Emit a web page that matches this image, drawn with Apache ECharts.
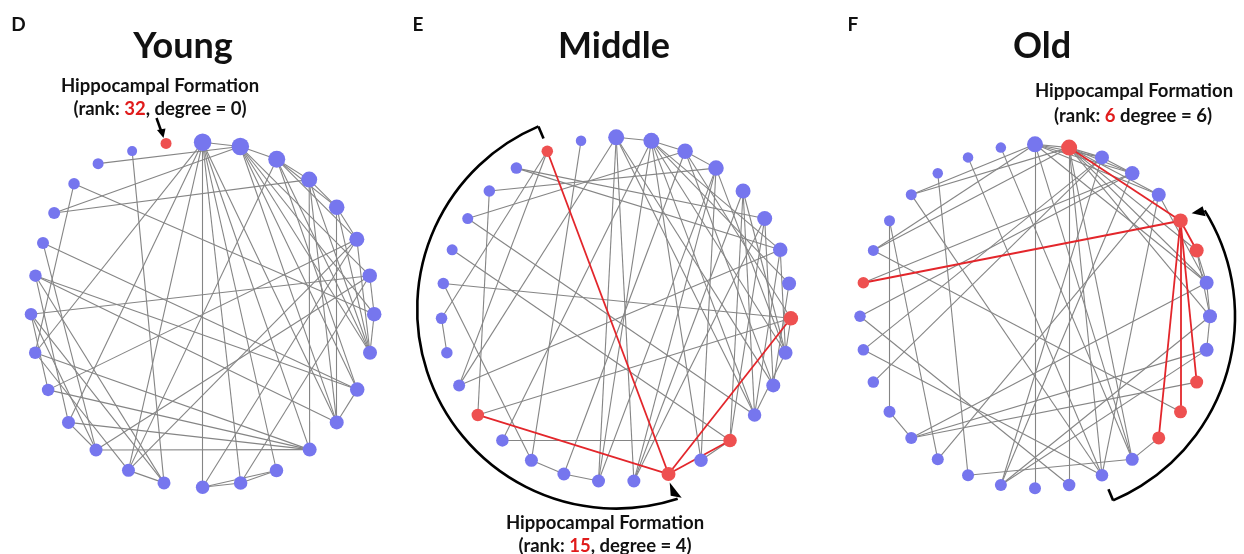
<!DOCTYPE html>
<html><head><meta charset="utf-8">
<script src="https://cdn.jsdelivr.net/npm/echarts@6/dist/echarts.min.js"></script>
<style>html,body{margin:0;padding:0;background:#fff}#c{width:1244px;height:554px}</style>
</head><body><div id="c"></div>
<script>
// ---------- Panel D : Young ----------
const youngAngles = [0,12.7,25.6,38.4,51.4,64.0,76.9,89.8,102.7,115.7,128.6,141.4,154.5,167.2,180,193.0,205.6,218.4,231.4,244.2,257.3,270.2,283.1,294.1,304.3,315.4,325.2,336.6,347.9];
const youngRadii  = [1,1,1,1,1,1,1,1,1,1,1,1,1,1,1,1,1,1,1,1,1,1,1,1.019,1.047,1.067,1.067,1.034,1.016];
const youngSizes  = [17.5,17.5,17,16,15.5,15,14.5,14.5,14,14.5,14,14,13.5,13.5,13.5,13,13,13,13,12.5,12.5,12.5,12.5,12,12,11.5,11,10,11];
const youngRed    = [28];
const youngEdges  = [[0,1],[0,14],[0,13],[0,12],[0,11],[0,10],[0,20],[0,18],[0,16],
  [1,26],[1,24],[1,2],[1,6],[1,7],[1,8],[1,9],[1,10],
  [2,3],[2,5],[2,8],[2,9],[2,16],[2,4],
  [3,4],[3,24],[3,8],[3,10],[3,11],
  [4,5],[4,8],[4,10],
  [5,19],[5,16],[5,14],[5,8],
  [6,21],[6,17],[6,7],[6,13],
  [7,25],[7,8],
  [9,10],[9,23],[9,22],[10,22],
  [11,17],[11,18],[11,19],[11,20],
  [12,13],[12,14],[13,14],
  [15,27],[15,21],[15,22],[15,16],
  [16,20],[17,18],[17,23],[17,21],[18,22],[19,21],[20,25]];
const youngRedEdges = [];

// ---------- Panel E : Middle ----------
const middleAngles = [0,11.6,23.2,34.8,46.5,58.1,69.7,81.3,92.9,104.5,116.1,127.7,139.4,151.0,162.6,174.2,185.8,197.4,209.0,220.6,232.3,243.9,255.5,267.1,278.7,290.3,301.9,313.5,325.2,336.8,348.4];
const middleRadii  = [1,1,1,1,1,1,1,1,1,1,1,1,1,1,1,1,1,1,1,1,1,1,1,1,1,1,1,1,1,1,1];
const middleSizes  = [16,16,15.5,15.5,15,15,14.5,14,14.5,14,14,13.5,13.5,13.5,14,13,13,13,13,12.5,12.5,12,11.5,11.5,11.5,11,11,11.5,11.5,11.5,10.5];
const middleRed    = [8,12,14,20,29];
const middleEdges  = [[0,1],[0,16],[0,21],[0,10],[0,11],[0,15],
  [1,2],[1,19],[1,16],[1,13],[1,7],[1,9],[1,6],[1,11],
  [2,26],[2,17],[2,10],[2,8],[2,3],
  [3,27],[3,9],[3,13],[3,15],[3,16],
  [4,15],[4,11],[4,9],[4,12],
  [5,28],[5,15],[5,12],[5,10],
  [6,28],[6,21],[6,11],[6,9],[7,10],
  [8,24],[8,20],[8,9],[9,11],[11,26],
  [12,19],[12,25],[12,13],
  [17,16],[18,17],[18,24],[18,30],
  [20,27],[21,29],[23,22],[23,29]];
const middleRedEdges = [[14,29],[14,20],[14,8],[14,12]];

// ---------- Panel F : Old ----------
const oldAngles = [0,11.25,22.5,33.75,45,56.25,67.5,78.75,90,101.25,112.5,123.75,135,146.25,157.5,168.75,180,191.25,202.5,213.75,225,236.25,247.5,258.75,270,281.25,292.5,303.75,315,326.25,337.5,348.75];
const oldRadii  = [1,1,1,1,1,1,1,1,1,1,1,1,1,1,1,1,1,1,1,1,1,1,1,1,1,1,1,1,1,1,1,1];
const oldSizes  = [16,16,14,14.5,14,14.5,14,14,14,14,13,13,13,13,12.5,12.5,12,12,12,12,12,12,11.5,11.5,11.5,11.5,11,11,11,10.5,10.5,10.5];
const oldRed    = [1,5,6,10,11,12,25];
const oldEdges  = [[0,1],[0,2],[0,3],[0,4],[0,16],[0,28],[0,26],[0,7],[0,13],
  [1,2],[1,3],[1,4],[1,6],[1,7],[1,8],[1,13],[1,14],[1,15],[1,26],[1,28],
  [2,3],[2,23],[2,22],[2,17],
  [3,24],[3,25],[3,17],
  [4,7],[4,14],[4,19],
  [6,7],[6,8],[7,8],[8,9],[7,20],[9,20],[10,20],[8,17],[9,17],
  [11,26],[12,13],[13,18],[13,31],[14,30],[14,28],[15,24],[14,23],
  [18,29],[19,27],[21,27],[20,21]];
const oldRedEdges = [[5,1],[5,6],[5,25],[5,10],[5,11],[5,12]];

// ---------- styling / layout ----------
const BLUE = '#7676ee', RED = '#ee5050', EDGE = '#858585', RED_EDGE = '#e3262b';
const FONT = 'Lato, "Open Sans", sans-serif';
const panels = [
  {cx:202.6, cy:314.8, rx:171.6, ry:172.5, angles:youngAngles, radii:youngRadii, sizes:youngSizes, red:youngRed, edges:youngEdges, redEdges:youngRedEdges},
  {cx:616.2, cy:309.6, rx:174.9, ry:172.3, angles:middleAngles, radii:middleRadii, sizes:middleSizes, red:middleRed, edges:middleEdges, redEdges:middleRedEdges},
  {cx:1035, cy:316.3, rx:175, ry:172, angles:oldAngles, radii:oldRadii, sizes:oldSizes, red:oldRed, edges:oldEdges, redEdges:oldRedEdges}
];
const LIM = 1.12;
const grids = [], xAxes = [], yAxes = [], series = [];
panels.forEach((p, i) => {
  grids.push({left: p.cx - LIM*p.rx, top: p.cy - LIM*p.ry, width: 2*LIM*p.rx, height: 2*LIM*p.ry});
  xAxes.push({type:'value', gridIndex:i, min:-LIM, max:LIM, show:false});
  yAxes.push({type:'value', gridIndex:i, min:-LIM, max:LIM, show:false});
  const nodes = p.angles.map((a, k) => {
    const t = a * Math.PI / 180, r = p.radii[k];
    return {name: 'n' + k, value: [r*Math.sin(t), r*Math.cos(t)], symbolSize: p.sizes[k],
      itemStyle: {color: p.red.includes(k) ? RED : BLUE}};
  });
  const links = p.edges.map(([a, b]) => ({source: 'n'+a, target: 'n'+b}))
    .concat(p.redEdges.map(([a, b]) => ({source: 'n'+a, target: 'n'+b, lineStyle: {color: RED_EDGE, width: 1.8, opacity: 1}})));
  series.push({type:'graph', coordinateSystem:'cartesian2d', xAxisIndex:i, yAxisIndex:i,
    symbol:'circle', data: nodes, links: links, silent:true, animation:false,
    lineStyle:{color:EDGE, width:1.1, opacity:1, curveness:0}, label:{show:false}, emphasis:{disabled:true}});
});

// annotations helpers
function pt(p, deg, r) { const t = deg*Math.PI/180; return [p.cx + r*Math.sin(t), p.cy - r*Math.cos(t)]; }
function txt(x, y, text, size) {
  return {type:'text', x:x, y:y, silent:true,
    style: {text:text, font:'bold ' + size + 'px ' + FONT, fill:'#111', align:'center', verticalAlign:'middle'}};
}
function rich(x, y, text, size) {
  return {type:'text', x:x, y:y, silent:true, style:{text:text, align:'center', verticalAlign:'middle',
    rich:{b:{fontFamily:FONT, fontWeight:'bold', fontSize:size, fill:'#111', color:'#111'},
          r:{fontFamily:FONT, fontWeight:'bold', fontSize:size, fill:'#e01b1b', color:'#e01b1b'}}}};
}
const E = panels[1], F = panels[2];
const eR = 199, fR = 200;
const eEnd = pt(E, 162, eR), eTip = pt(E, 162.8, 181), eStart = pt(E, 337, eR), eTick = pt(E, 337, eR - 13);
const fStart = pt(F, 58, fR), fEnd = pt(F, 157, fR), fTick = pt(F, 157, fR - 12);
const AS = 18.5;
const graphic = [
  txt(18.5, 25, 'D', 19), txt(418, 25, 'E', 19), txt(853, 25, 'F', 19),
  txt(183, 46, 'Young', 36), txt(614, 46, 'Middle', 36), txt(1042, 46, 'Old', 36),
  rich(160, 86, '{b|Hippocampal Formation}', AS),
  rich(160, 109, '{b|(rank: }{r|32}{b|, degree = 0)}', AS),
  rich(605, 523, '{b|Hippocampal Formation}', AS),
  rich(605, 546, '{b|(rank: }{r|15}{b|, degree = 4)}', AS),
  rich(1134, 91, '{b|Hippocampal Formation}', AS),
  rich(1133, 116, '{b|(rank: }{r|6}{b| degree = 6)}', AS),
  // D arrow
  {type:'line', silent:true, shape:{x1:156.5, y1:118, x2:161.5, y2:132}, style:{stroke:'#000', lineWidth:2.5}},
  {type:'polygon', silent:true, shape:{points:[[163.5,138],[157,130],[165.5,128.5]]}, style:{fill:'#000'}},
  // E bracket arc
  {type:'arc', silent:true, shape:{cx:E.cx, cy:E.cy, r:eR, startAngle:(162-90)*Math.PI/180, endAngle:(337-90)*Math.PI/180, clockwise:true},
    style:{stroke:'#000', lineWidth:2.6, fill:null}},
  {type:'line', silent:true, shape:{x1:eStart[0], y1:eStart[1], x2:eTick[0], y2:eTick[1]}, style:{stroke:'#000', lineWidth:2.6}},
  {type:'polygon', silent:true, shape:{points:[[eTip[0], eTip[1]], [eEnd[0]-7, eEnd[1]-3], [eEnd[0]+4, eEnd[1]-1]]}, style:{fill:'#000'}},
  // F bracket arc
  {type:'arc', silent:true, shape:{cx:F.cx, cy:F.cy, r:fR, startAngle:(58-90)*Math.PI/180, endAngle:(157-90)*Math.PI/180, clockwise:true},
    style:{stroke:'#000', lineWidth:2.6, fill:null}},
  {type:'line', silent:true, shape:{x1:fEnd[0], y1:fEnd[1], x2:fTick[0], y2:fTick[1]}, style:{stroke:'#000', lineWidth:2.6}},
  {type:'polygon', silent:true, shape:{points:[[fStart[0]-13, fStart[1]+3], [fStart[0]-2, fStart[1]-4], [fStart[0]+1, fStart[1]+6]]}, style:{fill:'#000'}}
];

const chart = echarts.init(document.getElementById('c'), null, {renderer:'canvas'});
chart.setOption({backgroundColor:'#fff', animation:false, grid:grids, xAxis:xAxes, yAxis:yAxes, series:series, graphic:graphic});
</script></body></html>
